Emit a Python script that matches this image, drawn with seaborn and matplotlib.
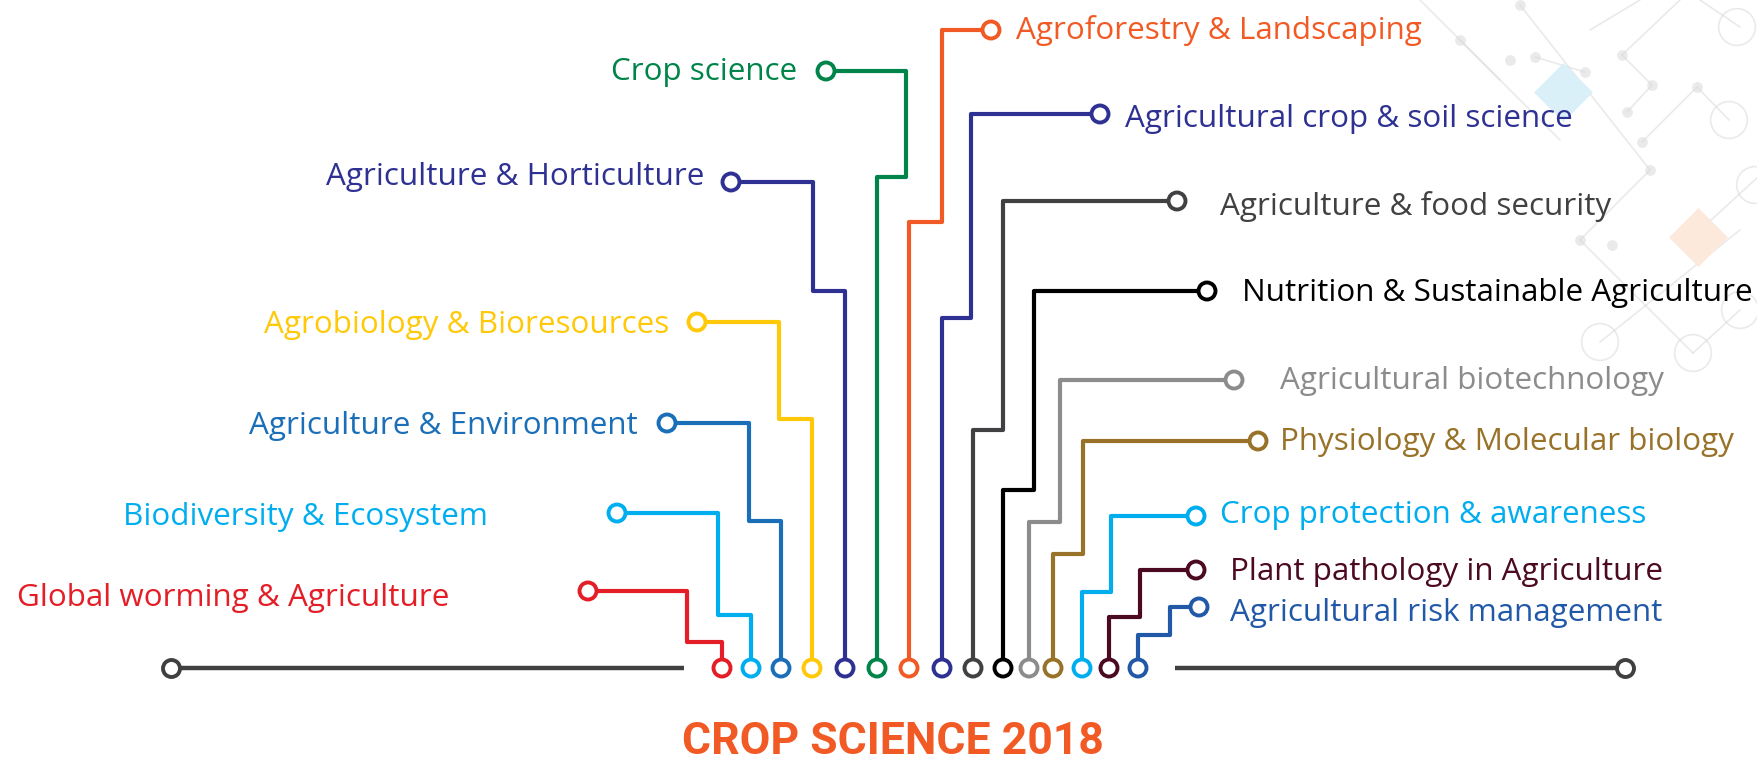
import pandas as pd
import matplotlib
matplotlib.use("Agg")
import matplotlib.pyplot as plt
import seaborn as sns

# topics, in the order of their pins on the baseline (left to right)
topics = [
    "Global worming & Agriculture", "Biodiversity & Ecosystem", "Agriculture & Environment",
    "Agrobiology & Bioresources", "Agriculture & Horticulture", "Crop science",
    "Agroforestry & Landscaping", "Agricultural crop & soil science", "Agriculture & food security",
    "Nutrition & Sustainable Agriculture", "Agricultural biotechnology", "Physiology & Molecular biology",
    "Crop protection & awareness", "Plant pathology in Agriculture", "Agricultural risk management",
]
colors = [
    "#e41e26", "#00aeef", "#1b6fb8", "#ffc90a", "#2e3192", "#00844a",
    "#f15a24", "#2e3192", "#414042", "#000000", "#8c8c8c", "#987229",
    "#00aeef", "#4b0a22", "#2258a8",
]
sides = ["left"] * 6 + ["right"] * 9

# pixel layout (y grows downwards)
pin_x = [588, 617, 667, 697, 731, 826, 991, 1100, 1177, 1207, 1234, 1258, 1196, 1196, 1199]
pin_y = [591, 513, 423, 322, 182, 71, 30, 114, 201, 291, 380, 441, 516, 570, 607]
elbow_x = [687, 718, 749, 779, 813, 906, 942, 971, 1003, 1034, 1060, 1083, 1111, 1140, 1170]
step_y = [642, 615, 521, 419, 291, 177, 222, 318, 430, 490, 522, 554, 592, 617, 635]
base_x = [722, 751, 781, 812, 845, 877, 909, 942, 973, 1003, 1029, 1053, 1082, 1109, 1138]
text_x = [449, 488, 638, 669, 704, 797, 1016, 1125, 1220, 1242, 1280, 1280, 1220, 1230, 1230]
text_y = [598, 517, 426, 325, 177, 72, 31, 119, 206, 293, 381, 442, 515, 572, 613]
base_y = 668

title = "CROP SCIENCE 2018"

sns.set_theme(style="white")
plt.rcParams["font.family"] = ["Open Sans", "DejaVu Sans"]

fig = plt.figure(figsize=(17.58, 7.61), dpi=100)
ax = fig.add_axes([0, 0, 1, 1])

# faint circuit decoration in the top right corner
deco = "#dcdcdc"
deco_lines = [
    [(1520, 5), (1650, 170)], [(1535, 57), (1585, 72)], [(1650, 170), (1580, 240)],
    [(1580, 240), (1693, 353)], [(1622, 55), (1652, 85), (1627, 112)], [(1622, 55), (1680, 0)],
    [(1697, 87), (1729, 120)], [(1697, 87), (1642, 142)], [(1697, 233), (1758, 177)],
    [(1600, 342), (1740, 230)], [(1740, 310), (1693, 353)], [(1460, 40), (1560, 140)],
    [(1420, 0), (1500, 80)], [(1700, 0), (1740, 27)], [(1590, 30), (1640, 0)],
]
for seg in deco_lines:
    xs, ys = zip(*seg)
    ax.plot(xs, ys, color=deco, lw=1.2, alpha=0.6, zorder=0)
ax.scatter([1520, 1650, 1535, 1580, 1622, 1652, 1627, 1642, 1697, 1585, 1612, 1460, 1510],
           [5, 170, 57, 240, 55, 85, 112, 142, 87, 72, 245, 40, 60],
           s=60, color=deco, alpha=0.6, zorder=0, linewidths=0)
ax.scatter([1737, 1729, 1693, 1600, 1740, 1755], [27, 120, 353, 342, 310, 185],
           s=700, facecolors="none", edgecolors=deco, linewidths=1.2, alpha=0.6, zorder=0)
ax.scatter([1563], [92], marker="D", s=900, color="#d9f0f8", linewidths=0, zorder=0)
ax.scatter([1698], [237], marker="D", s=900, color="#fce9dc", linewidths=0, zorder=0)

# baseline with end pins
ax.plot([179, 684], [base_y, base_y], color="#404040", lw=3.2, solid_capstyle="butt", zorder=1)
ax.plot([1175, 1617], [base_y, base_y], color="#404040", lw=3.2, solid_capstyle="butt", zorder=1)
ax.scatter([171, 1625], [base_y, base_y], s=150, facecolors="white", edgecolors="#404040",
           linewidths=2.8, zorder=3)

# elbow connectors
rows = []
for i, t in enumerate(topics):
    pts = [(pin_x[i], pin_y[i]), (elbow_x[i], pin_y[i]), (elbow_x[i], step_y[i]),
           (base_x[i], step_y[i]), (base_x[i], base_y)]
    for k, (x, y) in enumerate(pts):
        rows.append({"topic": t, "order": k, "x": x, "y": y})
paths = pd.DataFrame(rows)
palette = dict(zip(topics, colors))
sns.lineplot(data=paths, x="x", y="y", hue="topic", units="topic", estimator=None,
             sort=False, palette=palette, lw=3.0, legend=False, ax=ax, zorder=2)

# hollow pins at both ends
ax.scatter(pin_x, pin_y, s=150, facecolors="white", edgecolors=colors, linewidths=2.8, zorder=3)
ax.scatter(base_x, [base_y] * len(base_x), s=150, facecolors="white", edgecolors=colors,
           linewidths=2.8, zorder=3)

for i, t in enumerate(topics):
    ax.text(text_x[i], text_y[i], t, color=colors[i], fontsize=22.6,
            ha="right" if sides[i] == "left" else "left", va="center", zorder=4)

ax.text(893, 742, title, color="#f15a24", fontsize=32, fontweight="bold",
        family=["Roboto", "DejaVu Sans"], ha="center", va="center")

ax.set_xlim(0, 1758)
ax.set_ylim(761, 0)
ax.axis("off")

fig.savefig("out.png", dpi=100)
